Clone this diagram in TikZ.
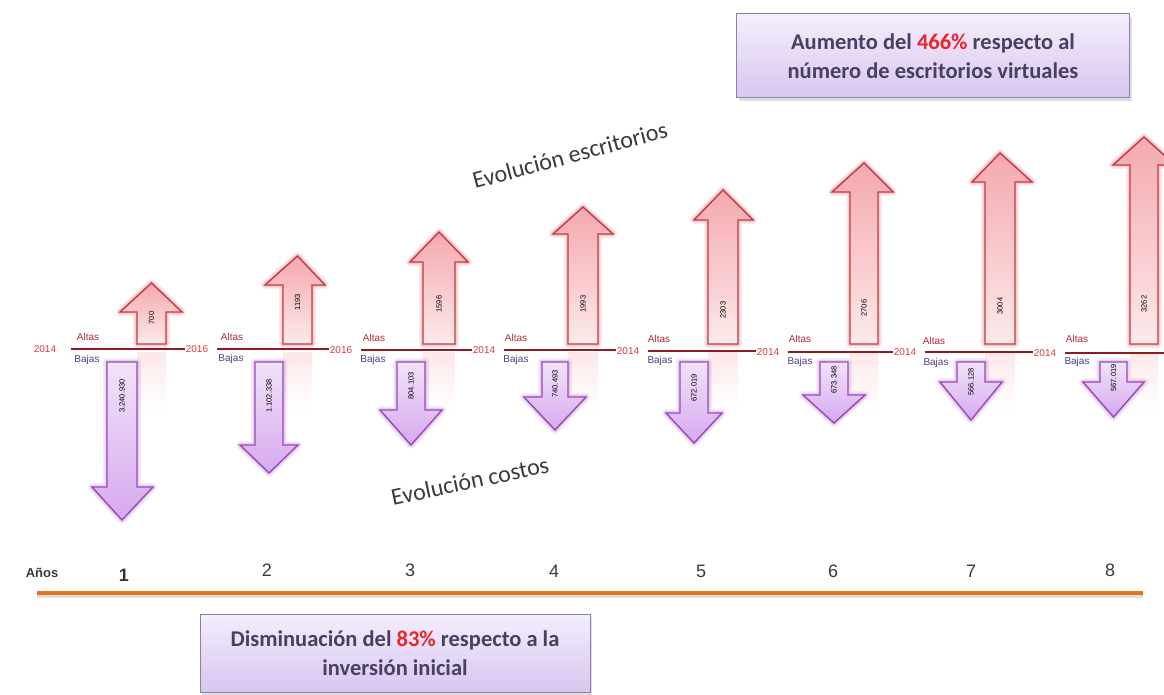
\documentclass[tikz,border=0pt]{standalone}
\usepackage{fontspec}
\setmainfont{Liberation Sans}
\newfontfamily\calfont{Carlito}
\usetikzlibrary{shadows,calc}
\definecolor{arrred}{HTML}{C23A44}
\definecolor{pinktop}{HTML}{F4A9AE}
\definecolor{pinkbot}{HTML}{FDE9EA}
\definecolor{purpline}{HTML}{9A48B8}
\definecolor{purptop}{HTML}{F1E2F9}
\definecolor{purpbot}{HTML}{D6A9EE}
\definecolor{segline}{HTML}{8E1B24}
\definecolor{yearred}{HTML}{E0383C}
\definecolor{altascol}{HTML}{B02838}
\definecolor{bajascol}{HTML}{4E3C8C}
\definecolor{evotext}{HTML}{3A3A3A}
\definecolor{boxtext}{HTML}{48405E}
\definecolor{boxtop}{HTML}{F4EEFC}
\definecolor{boxbot}{HTML}{D8C6EF}
\definecolor{boxline}{HTML}{8A82A6}
\definecolor{axisor}{HTML}{E8731E}
\definecolor{pctred}{HTML}{E8262C}
\tikzset{
  upglowA/.style={draw=arrred, line width=8pt, opacity=0.10, line join=round},
  upglowB/.style={draw=arrred, line width=4.5pt, opacity=0.18, line join=round},
  upbody/.style={shade, top color=pinktop, bottom color=pinkbot, draw=arrred, line width=1.4pt, line join=miter},
  uprefl/.style={shade, top color=pinktop!45, bottom color=white, draw=none, opacity=0.6},
  dnglowA/.style={draw=purpline, line width=8pt, opacity=0.10, line join=round},
  dnglowB/.style={draw=purpline, line width=4.5pt, opacity=0.18, line join=round},
  dnbody/.style={shade, top color=purptop, bottom color=purpbot, draw=purpline, line width=1.4pt, line join=miter},
  numlab/.style={rotate=90, font=\fontsize{7.5}{8}\selectfont, text=black, inner sep=0pt},
  yearlab/.style={font=\fontsize{10}{11}\selectfont, text=yearred, inner sep=1pt},
  altaslab/.style={font=\fontsize{10}{11}\selectfont, text=altascol, inner sep=0pt},
  bajaslab/.style={font=\fontsize{10}{11}\selectfont, text=bajascol, inner sep=0pt},
  segstyle/.style={draw=segline, line width=1.3pt},
  evolab/.style={font=\calfont\fontsize{24}{26}\selectfont, text=evotext, inner sep=0pt},
  axisnum/.style={font=\fontsize{18}{20}\selectfont, text=evotext, inner sep=0pt},
  infobox/.style={shade, top color=boxtop, bottom color=boxbot, draw=boxline, line width=1pt,
    drop shadow={shadow xshift=2pt, shadow yshift=-3pt, opacity=0.25},
    font=\calfont\bfseries\fontsize{22.5}{29}\selectfont, text=boxtext, align=center}
}
% #1 name, #2 shaft L, #3 shaft R, #4 head L, #5 head R, #6 tip y, #7 head base y, #8 label, #9 label y
\newcommand\UpArr[9]{%
  \path[uprefl] (#2,352) rectangle (#3,410);
  \path[upglowA] (#2,344) -- (#2,#7) -- (#4,#7) -- ({(#2+#3)/2},#6) -- (#5,#7) -- (#3,#7) -- (#3,344) -- cycle;
  \path[upglowB] (#2,344) -- (#2,#7) -- (#4,#7) -- ({(#2+#3)/2},#6) -- (#5,#7) -- (#3,#7) -- (#3,344) -- cycle;
  \path[upbody] (#2,344) -- (#2,#7) -- (#4,#7) -- ({(#2+#3)/2},#6) -- (#5,#7) -- (#3,#7) -- (#3,344) -- cycle;
  \node[numlab] (#1) at ({(#2+#3)/2},#9) {#8};
}
% #1 name, #2 shaft L, #3 shaft R, #4 head L, #5 head R, #6 head top y, #7 tip y, #8 label, #9 label y
\newcommand\DnArr[9]{%
  \path[dnglowA] (#2,362) -- (#2,#6) -- (#4,#6) -- ({(#2+#3)/2},#7) -- (#5,#6) -- (#3,#6) -- (#3,362) -- cycle;
  \path[dnglowB] (#2,362) -- (#2,#6) -- (#4,#6) -- ({(#2+#3)/2},#7) -- (#5,#6) -- (#3,#6) -- (#3,362) -- cycle;
  \path[dnbody] (#2,362) -- (#2,#6) -- (#4,#6) -- ({(#2+#3)/2},#7) -- (#5,#6) -- (#3,#6) -- (#3,362) -- cycle;
  \node[numlab] (#1) at ({(#2+#3)/2},#9) {#8};
}
\begin{document}
\begin{tikzpicture}[x=1pt, y=-1pt]
\useasboundingbox (0,0) rectangle (1164,695);
\clip (0,0) rectangle (1164,695);

% arrows
\UpArr{u1}{137}{166}{120}{182}{283}{312}{700}{318}
\UpArr{u2}{283}{312}{265}{325}{256}{285}{1193}{302}
\UpArr{u3}{423}{455}{410}{468}{232}{262}{1596}{304}
\UpArr{u4}{568}{598}{553}{613}{207}{234}{1993}{304}
\UpArr{u5}{708}{738}{694}{753}{190}{220}{2303}{310}
\UpArr{u6}{850}{878}{832}{893}{163}{192}{2706}{308}
\UpArr{u7}{985}{1015}{972}{1032}{153}{182}{3004}{306}
\UpArr{u8}{1130}{1158}{1113}{1175}{137}{165}{3262}{304}

\DnArr{d1}{107}{137}{92}{153}{487}{520}{3.240.930}{396}
\DnArr{d2}{255}{283}{240}{298}{445}{473}{1.102.338}{396}
\DnArr{d3}{397}{425}{380}{442}{410}{445}{804.103}{386}
\DnArr{d4}{542}{568}{524}{586}{397}{430}{740.493}{384}
\DnArr{d5}{680}{708}{666}{722}{413}{443}{672.019}{388}
\DnArr{d6}{820}{848}{803}{865}{395}{423}{673.348}{380}
\DnArr{d7}{957}{985}{940}{1002}{382}{420}{566.128}{382}
\DnArr{d8}{1100}{1127}{1083}{1144}{382}{417}{567.019}{378}

% timeline segments
\node[yearlab] (yr0) at (45,349) {2014};
\node[yearlab] (yr1) at (197,349) {2016};
\node[yearlab] (yr2) at (341,350) {2016};
\node[yearlab] (yr3) at (484,350) {2014};
\node[yearlab] (yr4) at (628,351) {2014};
\node[yearlab] (yr5) at (768,352) {2014};
\node[yearlab] (yr6) at (905,352) {2014};
\node[yearlab] (yr7) at (1045,353) {2014};
\coordinate (yrend) at (1164,353);

\draw[segstyle] ([xshift=14pt]yr0.east) -- (yr0.east -| yr1.west);
\draw[segstyle] ([xshift=8pt]yr1.east) -- (yr1.east -| yr2.west);
\draw[segstyle] ([xshift=8pt]yr2.east) -- (yr2.east -| yr3.west);
\draw[segstyle] ([xshift=8pt]yr3.east) -- (yr3.east -| yr4.west);
\draw[segstyle] ([xshift=8pt]yr4.east) -- (yr4.east -| yr5.west);
\draw[segstyle] ([xshift=8pt]yr5.east) -- (yr5.east -| yr6.west);
\draw[segstyle] ([xshift=8pt]yr6.east) -- (yr6.east -| yr7.west);
\draw[segstyle] ([xshift=8pt]yr7.east) -- (yr7.east -| yrend);

\node[altaslab] (al1) at (88,337) {Altas};
\node[bajaslab] (bj1) at (87,360) {Bajas};
\node[altaslab] (al2) at (232,337) {Altas};
\node[bajaslab] (bj2) at (231,359) {Bajas};
\node[altaslab] (al3) at (374,338) {Altas};
\node[bajaslab] (bj3) at (373,360) {Bajas};
\node[altaslab] (al4) at (516,338) {Altas};
\node[bajaslab] (bj4) at (516,360) {Bajas};
\node[altaslab] (al5) at (659,339) {Altas};
\node[bajaslab] (bj5) at (660,361) {Bajas};
\node[altaslab] (al6) at (800,339) {Altas};
\node[bajaslab] (bj6) at (800,362) {Bajas};
\node[altaslab] (al7) at (934,341) {Altas};
\node[bajaslab] (bj7) at (936,363) {Bajas};
\node[altaslab] (al8) at (1077,339) {Altas};
\node[bajaslab] (bj8) at (1077,362) {Bajas};

% titles
\node[evolab, rotate=15] (evoesc) at (570,155) {Evolución escritorios};
\node[evolab, rotate=12] (evocos) at (470,481) {Evolución costos};

% axis
\node[font=\bfseries\fontsize{13}{14}\selectfont, text=evotext, inner sep=0pt] (anos) at (42,573) {Años};
\node[axisnum, font=\bfseries\fontsize{18}{20}\selectfont, text=black!80] (n1) at (124,575) {1};
\node[axisnum] (n2) at (267,570) {2};
\node[axisnum] (n3) at (410,570) {3};
\node[axisnum] (n4) at (554,571) {4};
\node[axisnum] (n5) at (701,571) {5};
\node[axisnum] (n6) at (833,571) {6};
\node[axisnum] (n7) at (971,571) {7};
\node[axisnum] (n8) at (1110,570) {8};
\coordinate (axL) at (37,593);
\coordinate (axR) at (1143,593);
\draw[black, opacity=0.12, line width=3pt] ([yshift=-3pt]axL) -- ([yshift=-3pt]axR);
\draw[axisor, line width=3.5pt] (axL) -- (axR);

% info boxes
\node[infobox, minimum width=393pt, minimum height=84pt] (topbox) at (933,56)
  {Aumento del {\color{pctred}466\%} respecto al\\número de escritorios virtuales};
\node[infobox, minimum width=390pt, minimum height=78pt] (botbox) at (395,653)
  {Disminuación del {\color{pctred}83\%} respecto a la\\inversión inicial};
\end{tikzpicture}
\end{document}
